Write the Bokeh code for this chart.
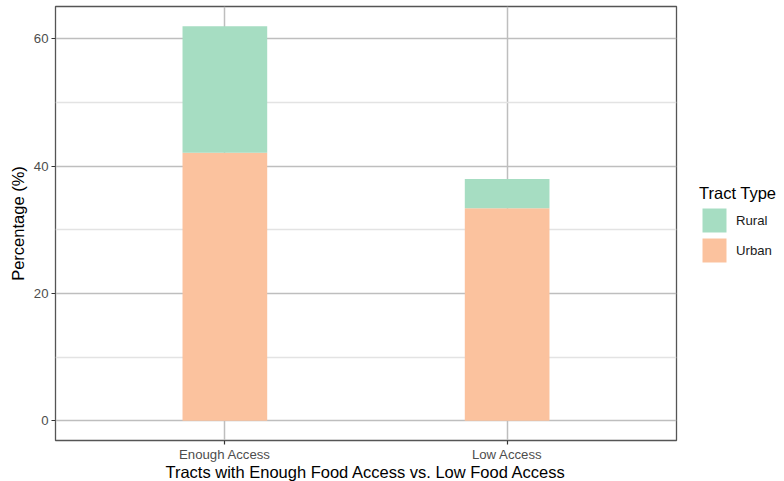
from bokeh.plotting import figure
from bokeh.models import FactorRange, Range1d, Legend, LegendItem, ColumnDataSource, FixedTicker
from bokeh.embed import file_html
from bokeh.resources import INLINE

categories = ["Enough Access", "Low Access"]
urban = [42.1, 33.4]
rural = [19.9, 4.6]
y_ticks = [0, 20, 40, 60]
y_minor = [10, 30, 50]
series = ["Urban", "Rural"]
legend_title = "Tract Type"

COL_URBAN = "#FBC29E"
COL_RURAL = "#A6DDC2"
FONT = "Liberation Sans"

source = ColumnDataSource(dict(cat=categories, Urban=urban, Rural=rural))

p = figure(
    x_range=FactorRange(factors=categories, range_padding=0.1, range_padding_units="absolute"),
    y_range=Range1d(-3.1, 65.1),
    frame_width=621, frame_height=434,
    output_backend="svg", toolbar_location=None,
    min_border_top=6, min_border_left=55, min_border_right=0, min_border_bottom=41,
)

rs = p.vbar_stack(series, x="cat", width=0.3, color=[COL_URBAN, COL_RURAL],
                  line_color=None, source=source)

p.background_fill_color = "white"
p.border_fill_color = "white"
p.outline_line_color = "#555555"
p.outline_line_width = 1.3

p.yaxis.ticker = FixedTicker(ticks=y_ticks, minor_ticks=y_minor)
for ax in (p.xaxis, p.yaxis):
    ax.axis_line_color = None
    ax.major_tick_line_color = "#333333"
    ax.major_tick_line_width = 1.2
    ax.major_tick_out = 4
    ax.major_tick_in = 0
    ax.minor_tick_line_color = None
    ax.major_label_text_font = FONT
    ax.major_label_text_font_size = "13.2px"
    ax.major_label_text_color = "#4d4d4d"
    ax.axis_label_text_font = FONT
    ax.axis_label_text_font_size = "16.5px"
    ax.axis_label_text_font_style = "normal"
    ax.axis_label_text_color = "#000000"

p.xaxis.major_label_standoff = 2
p.yaxis.major_label_standoff = 3
p.xaxis.axis_label = "Tracts with Enough Food Access vs. Low Food Access"
p.yaxis.axis_label = "Percentage (%)"
p.xaxis.axis_label_standoff = -2
p.yaxis.axis_label_standoff = 4

p.xgrid.grid_line_color = "#bebebe"
p.xgrid.grid_line_width = 1.5
p.ygrid.grid_line_color = "#bebebe"
p.ygrid.grid_line_width = 1.5
p.ygrid.minor_grid_line_color = "#e3e3e3"
p.ygrid.minor_grid_line_width = 1.3

legend = Legend(
    items=[LegendItem(label="Rural", renderers=[rs[1]]),
           LegendItem(label="Urban", renderers=[rs[0]])],
    location=(23, 175),
    title=legend_title,
)
legend.title_text_font = FONT
legend.title_text_font_size = "16.5px"
legend.title_text_font_style = "normal"
legend.title_text_color = "#000000"
legend.title_standoff = 2
legend.label_text_font = FONT
legend.label_text_font_size = "13.2px"
legend.label_text_color = "#1a1a1a"
legend.glyph_width = 30
legend.glyph_height = 30
legend.spacing = -4
legend.label_standoff = 7
legend.margin = 0
legend.padding = 0
legend.border_line_color = None
legend.background_fill_alpha = 0
p.add_layout(legend, "right")

open("out.html", "w").write(file_html(p, INLINE))
